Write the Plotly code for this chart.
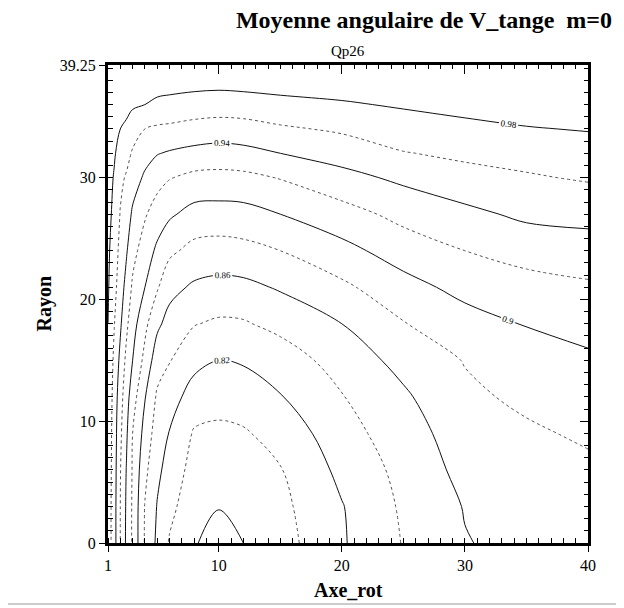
import plotly.graph_objects as go

# field grid: Axe_rot across, Rayon up
axe_rot = [1, 1.5, 2, 2.5, 3, 4, 5, 6, 8, 10, 12, 15, 20, 25, 30, 35, 40]
rayon = [0, 3, 6, 9, 12, 15, 18, 21, 24, 27, 30, 32, 34, 36, 38, 39.25]

# one list per Axe_rot column, from Rayon=0 up to the top
col_1 = [0.972, 0.972, 0.973, 0.974, 0.976, 0.978, 0.980, 0.982, 0.984, 0.987, 0.990, 0.992, 0.994, 0.996, 0.998, 0.999]
col_1_5 = [0.948, 0.948, 0.949, 0.950, 0.952, 0.956, 0.961, 0.966, 0.969, 0.974, 0.978, 0.983, 0.989, 0.993, 0.996, 0.998]
col_2 = [0.920, 0.920, 0.921, 0.924, 0.928, 0.935, 0.943, 0.950, 0.955, 0.959, 0.964, 0.970, 0.980, 0.988, 0.994, 0.997]
col_2_5 = [0.896, 0.897, 0.899, 0.903, 0.908, 0.915, 0.924, 0.933, 0.942, 0.950, 0.958, 0.966, 0.976, 0.986, 0.993, 0.997]
col_3 = [0.877, 0.877, 0.878, 0.880, 0.889, 0.900, 0.908, 0.917, 0.926, 0.937, 0.949, 0.958, 0.968, 0.983, 0.992, 0.997]
col_4 = [0.838, 0.839, 0.845, 0.853, 0.861, 0.874, 0.885, 0.900, 0.911, 0.922, 0.937, 0.947, 0.960, 0.980, 0.991, 0.997]
col_5 = [0.816, 0.819, 0.824, 0.830, 0.837, 0.849, 0.864, 0.882, 0.896, 0.911, 0.927, 0.941, 0.957, 0.976, 0.989, 0.997]
col_6 = [0.798, 0.806, 0.813, 0.819, 0.829, 0.841, 0.853, 0.866, 0.884, 0.903, 0.921, 0.938, 0.956, 0.974, 0.989, 0.997]
col_8 = [0.781, 0.786, 0.792, 0.798, 0.811, 0.826, 0.841, 0.857, 0.874, 0.893, 0.915, 0.934, 0.953, 0.971, 0.988, 0.997]
col_10 = [0.775, 0.7805, 0.788, 0.796, 0.807, 0.820, 0.837, 0.854, 0.872, 0.892, 0.914, 0.932, 0.951, 0.970, 0.987, 0.997]
col_12 = [0.780, 0.784, 0.790, 0.798, 0.809, 0.822, 0.838, 0.855, 0.874, 0.893, 0.915, 0.934, 0.952, 0.971, 0.988, 0.997]
col_15 = [0.792, 0.795, 0.799, 0.807, 0.819, 0.829, 0.846, 0.862, 0.880, 0.900, 0.921, 0.940, 0.957, 0.975, 0.988, 0.995]
col_20 = [0.818, 0.819, 0.825, 0.832, 0.839, 0.849, 0.860, 0.876, 0.894, 0.912, 0.934, 0.948, 0.963, 0.978, 0.990, 0.996]
col_25 = [0.841, 0.843, 0.846, 0.851, 0.857, 0.866, 0.879, 0.893, 0.909, 0.926, 0.944, 0.959, 0.971, 0.982, 0.992, 0.996]
col_30 = [0.859, 0.861, 0.866, 0.870, 0.876, 0.881, 0.892, 0.906, 0.920, 0.935, 0.953, 0.964, 0.975, 0.986, 0.994, 0.997]
col_35 = [0.866, 0.867, 0.872, 0.877, 0.884, 0.891, 0.901, 0.913, 0.927, 0.944, 0.958, 0.967, 0.979, 0.988, 0.994, 0.997]
col_40 = [0.868, 0.872, 0.876, 0.883, 0.890, 0.897, 0.906, 0.917, 0.931, 0.946, 0.962, 0.972, 0.981, 0.989, 0.995, 0.998]

columns = [col_1, col_1_5, col_2, col_2_5, col_3, col_4, col_5, col_6, col_8,
           col_10, col_12, col_15, col_20, col_25, col_30, col_35, col_40]

x_ticks = [1, 10, 20, 30, 40]
y_ticks = [0, 10, 20, 30, 39.25]
y_ticktext = ["0", "10", "20", "30", "39.25"]

# z[row][col] for plotly (rows = rayon)
z = [[col[j] for col in columns] for j in range(len(rayon))]

serif = "Liberation Serif"

fig = go.Figure()

# solid, labelled levels
fig.add_trace(go.Contour(
    x=axe_rot, y=rayon, z=z,
    contours=dict(start=0.82, end=0.981, size=0.04, coloring="none",
                  showlabels=True, labelformat=".2~f",
                  labelfont=dict(family=serif, size=9, color="black")),
    line=dict(color="#111", width=1, smoothing=1),
    showscale=False, hoverinfo="skip",
))

# innermost solid level, no label
fig.add_trace(go.Contour(
    x=axe_rot, y=rayon, z=z,
    contours=dict(start=0.78, end=0.781, size=0.04, coloring="none", showlabels=False),
    line=dict(color="#111", width=1, smoothing=1),
    showscale=False, hoverinfo="skip",
))

# dotted, in-between levels
fig.add_trace(go.Contour(
    x=axe_rot, y=rayon, z=z, xaxis="x2", yaxis="y2",
    contours=dict(start=0.80, end=0.961, size=0.04, coloring="none", showlabels=False),
    line=dict(color="#555", width=1, dash="dot", smoothing=1),
    showscale=False, hoverinfo="skip",
))

minor_in = dict(tickmode="linear", tick0=0, dtick=1, ticks="inside", ticklen=5,
                tickwidth=1, tickcolor="black", showgrid=False)
minor_top = dict(minor_in, ticklen=4)

# the page body adds 8px round the figure, so the figure is 8px smaller
fig.update_layout(
    width=616, height=600,
    margin=dict(l=100, r=36, t=57, b=65),
    paper_bgcolor="white", plot_bgcolor="white",
    showlegend=False,
    font=dict(family=serif, color="black", size=16),
    title=dict(text="<b>Moyenne angulaire de V_tange  m=0</b>",
               xref="container", x=604 / 616, xanchor="right",
               yref="container", y=1 - 12 / 600, yanchor="middle",
               font=dict(family=serif, size=24, color="black")),
    xaxis=dict(range=[1, 40], tickmode="array", tickvals=x_ticks,
               ticks="outside", ticklen=6, tickwidth=1, tickcolor="black",
               showline=True, linewidth=3, linecolor="black",
               showgrid=False, zeroline=False, minor=minor_in,
               tickfont=dict(size=16)),
    xaxis2=dict(overlaying="x", side="top", range=[1, 40],
                tickmode="array", tickvals=x_ticks[1:-1],
                ticks="inside", ticklen=9, tickwidth=1, tickcolor="black",
                showticklabels=False, showline=True, linewidth=3, linecolor="black",
                showgrid=False, zeroline=False, minor=minor_top),
    yaxis=dict(range=[0, 39.25], tickmode="array", tickvals=y_ticks, ticktext=y_ticktext,
               ticks="outside", ticklen=6, tickwidth=1, tickcolor="black",
               showline=True, linewidth=3, linecolor="black",
               showgrid=False, zeroline=False, minor=minor_in,
               tickfont=dict(size=16)),
    yaxis2=dict(overlaying="y", side="right", range=[0, 39.25],
                tickmode="array", tickvals=y_ticks[1:-1],
                ticks="inside", ticklen=8, tickwidth=1, tickcolor="black",
                showticklabels=False, showline=True, linewidth=3, linecolor="black",
                showgrid=False, zeroline=False, minor=minor_top),
)

fig.add_annotation(text="Qp26", xref="paper", yref="paper", x=0.5, y=1,
                   yanchor="bottom", yshift=4, showarrow=False,
                   font=dict(family=serif, size=15, color="black"))
fig.add_annotation(text="<b>Rayon</b>", xref="paper", yref="paper",
                   x=-(108 - 30) / 480, y=0.5, textangle=-90, showarrow=False,
                   font=dict(family=serif, size=20, color="black"))
fig.add_annotation(text="<b>Axe_rot</b>", xref="paper", yref="paper",
                   x=0.5, y=0, yanchor="middle", yshift=-47, showarrow=False,
                   font=dict(family=serif, size=20, color="black"))

# thin grey rule along the bottom of the page
fig.add_shape(type="line", xref="paper", yref="paper",
              x0=-108 / 480, x1=516 / 480, y0=-61 / 478, y1=-61 / 478,
              line=dict(color="#bbbbbb", width=1.5))

fig.write_html("out.html")
